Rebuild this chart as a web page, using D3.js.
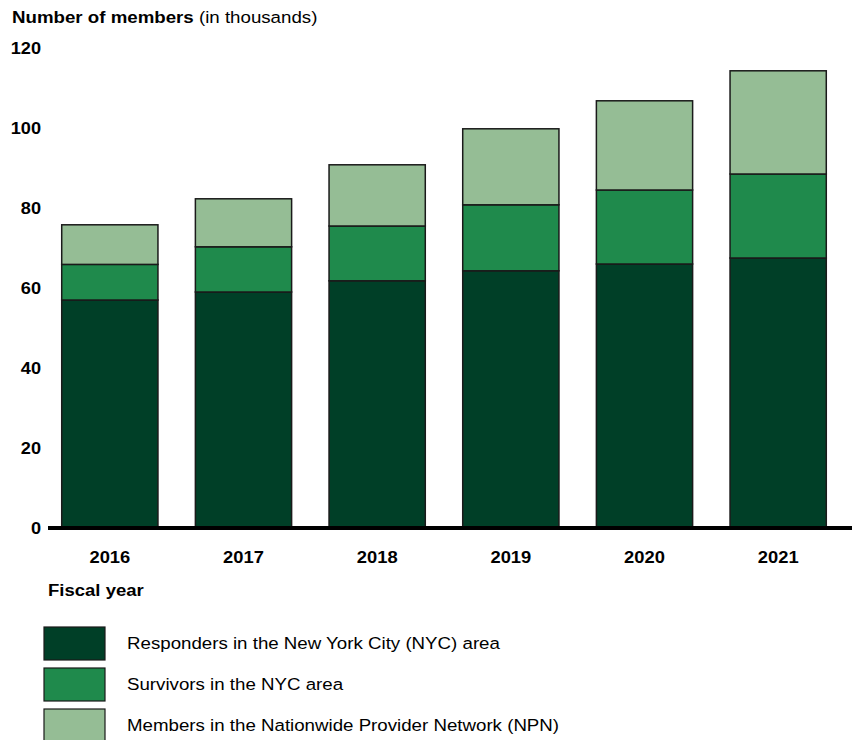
<!DOCTYPE html>
<html>
<head>
<meta charset="utf-8">
<script src="https://cdn.jsdelivr.net/npm/d3@7"></script>
<style>
  body { margin: 0; background: #fff; }
  svg text { font-family: "Liberation Sans", Arial, sans-serif; fill: #000; }
</style>
</head>
<body>
<div id="chart"></div>
<script>
(function() {
  // Data (thousands of members)
  const years = ['2016', '2017', '2018', '2019', '2020', '2021'];
  const responders = [57, 59, 61.8, 64.3, 66, 67.5];
  const survivors = [8.9, 11.3, 13.7, 16.5, 18.5, 21];
  const npn = [9.9, 12, 15.3, 19, 22.3, 25.8];
  const yTicks = [0, 20, 40, 60, 80, 100, 120];

  const seriesKeys = ['responders', 'survivors', 'npn'];
  const seriesLabels = [
    'Responders in the New York City (NYC) area',
    'Survivors in the NYC area',
    'Members in the Nationwide Provider Network (NPN)'
  ];
  const colors = ['#003f27', '#1f8a4c', '#95bd95'];

  const width = 852, height = 740;
  const svg = d3.select('#chart').append('svg')
    .attr('width', width)
    .attr('height', height);

  const x = d3.scaleBand().domain(years).range([43, 845]).paddingInner(0.28).paddingOuter(0.14);
  const y = d3.scaleLinear().domain([0, 120]).range([528, 48]);

  // text in the source is a bit wider than Liberation Sans, so stretch horizontally
  const place = (px, py, sx) => `translate(${px},${py}) scale(${sx},1)`;

  // Title
  const title = svg.append('text')
    .attr('transform', place(12, 23, 1.1))
    .attr('font-size', 17);
  title.append('tspan').attr('font-weight', 'bold').text('Number of members');
  title.append('tspan').text(' (in thousands)');

  // Y tick labels
  svg.append('g').selectAll('text')
    .data(yTicks)
    .enter().append('text')
    .attr('transform', d => place(41, y(d), 1.07))
    .attr('dy', '0.36em')
    .attr('text-anchor', 'end')
    .attr('font-size', 17)
    .attr('font-weight', 'bold')
    .text(d => d);

  // Stacked bars
  const rows = years.map((yr, i) => ({
    year: yr, responders: responders[i], survivors: survivors[i], npn: npn[i]
  }));
  const stacked = d3.stack().keys(seriesKeys)(rows);

  svg.append('g').selectAll('g')
    .data(stacked)
    .enter().append('g')
    .attr('fill', (d, i) => colors[i])
    .selectAll('rect')
    .data(d => d)
    .enter().append('rect')
    .attr('x', d => x(d.data.year))
    .attr('width', x.bandwidth())
    .attr('y', d => y(d[1]))
    .attr('height', d => y(d[0]) - y(d[1]))
    .attr('stroke', '#1a1a1a')
    .attr('stroke-width', 1.5);

  // Baseline
  svg.append('line')
    .attr('x1', 48).attr('x2', width)
    .attr('y1', y(0)).attr('y2', y(0))
    .attr('stroke', '#000')
    .attr('stroke-width', 4);

  // X labels
  svg.append('g').selectAll('text')
    .data(years)
    .enter().append('text')
    .attr('transform', d => place(x(d) + x.bandwidth() / 2, 563, 1.08))
    .attr('text-anchor', 'middle')
    .attr('font-size', 17)
    .attr('font-weight', 'bold')
    .text(d => d);

  svg.append('text')
    .attr('transform', place(48, 596, 1.09))
    .attr('font-size', 17)
    .attr('font-weight', 'bold')
    .text('Fiscal year');

  // Legend
  const legend = svg.append('g').selectAll('g')
    .data(seriesLabels)
    .enter().append('g')
    .attr('transform', (d, i) => `translate(44,${627 + i * 41})`);

  legend.append('rect')
    .attr('width', 61)
    .attr('height', 33)
    .attr('fill', (d, i) => colors[i])
    .attr('stroke', '#1a1a1a')
    .attr('stroke-width', 1.2);

  legend.append('text')
    .attr('transform', place(83, 22, 1.1))
    .attr('font-size', 17)
    .text(d => d);
})();
</script>
</body>
</html>
